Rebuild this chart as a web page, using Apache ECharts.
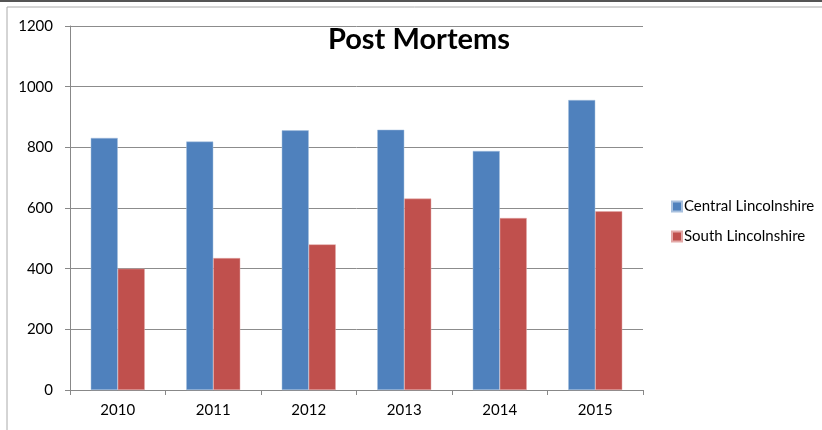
<!DOCTYPE html>
<html>
<head>
<meta charset="utf-8">
<script src="https://cdn.jsdelivr.net/npm/echarts@6/dist/echarts.min.js"></script>
<style>
  html, body { margin: 0; padding: 0; background: #fff; }
  #chart { width: 822px; height: 430px; }
</style>
</head>
<body>
<div id="chart"></div>
<script>
    var years = ['2010', '2011', '2012', '2013', '2014', '2015'];
    var centralValues = [831, 819, 856, 858, 788, 956];
    var southValues = [400, 435, 480, 631, 567, 589];
    var seriesNames = ['Central Lincolnshire', 'South Lincolnshire'];
    var colors = ['#4f81bd', '#c0504d'];
    var yTicks = { min: 0, max: 1200, interval: 200 };

    var chart = echarts.init(document.getElementById('chart'));
    var font = 'Lato, "Open Sans", sans-serif';

    var option = {
        animation: false,
        backgroundColor: '#fff',
        title: {
            text: 'Post Mortems',
            left: 414,
            top: 20,
            textAlign: 'center',
            textStyle: { fontFamily: font, fontSize: 29, fontWeight: 'bold', color: '#000' }
        },
        legend: {
            orient: 'vertical',
            left: 666,
            top: 194,
            itemWidth: 10,
            itemHeight: 10,
            itemGap: 15,
            icon: 'rect',
            data: seriesNames,
            textStyle: { fontFamily: font, fontSize: 15, color: '#000', padding: [0, 0, 0, -3] }
        },
        grid: { left: 70, right: 179, top: 26, bottom: 40, containLabel: false },
        xAxis: {
            type: 'category',
            data: years,
            axisLine: { lineStyle: { color: '#888', width: 1 } },
            axisTick: { show: true, length: 5, alignWithLabel: false, lineStyle: { color: '#888' } },
            axisLabel: { fontFamily: font, fontSize: 15, color: '#000', margin: 13 }
        },
        yAxis: {
            type: 'value',
            min: yTicks.min,
            max: yTicks.max,
            interval: yTicks.interval,
            axisLine: { show: true, lineStyle: { color: '#888', width: 1 } },
            axisTick: { show: true, length: 5, lineStyle: { color: '#888' } },
            axisLabel: {
                fontFamily: font, fontSize: 15, color: '#000', margin: 17,
                formatter: function (v) { return String(v); }
            },
            splitLine: { lineStyle: { color: '#8c8c8c', width: 1 } }
        },
        series: [
            {
                name: seriesNames[0],
                type: 'bar',
                data: centralValues,
                barWidth: 27,
                barGap: '0%',
                itemStyle: { color: colors[0], borderColor: '#a7c0de', borderWidth: 0.5 }
            },
            {
                name: seriesNames[1],
                type: 'bar',
                data: southValues,
                barWidth: 27,
                barGap: '0%',
                itemStyle: { color: colors[1], borderColor: '#e3a9a8', borderWidth: 0.5 }
            }
        ],
        graphic: [
            { type: 'rect', shape: { x: 0, y: 0, width: 822, height: 2 }, style: { fill: '#555' } },
            { type: 'line', shape: { x1: 7, y1: 7, x2: 822, y2: 7 }, style: { stroke: '#aaa', lineWidth: 1 } },
            { type: 'line', shape: { x1: 7, y1: 7, x2: 7, y2: 430 }, style: { stroke: '#aaa', lineWidth: 1 } }
        ]
    };
    chart.setOption(option);
</script>
</body>
</html>
